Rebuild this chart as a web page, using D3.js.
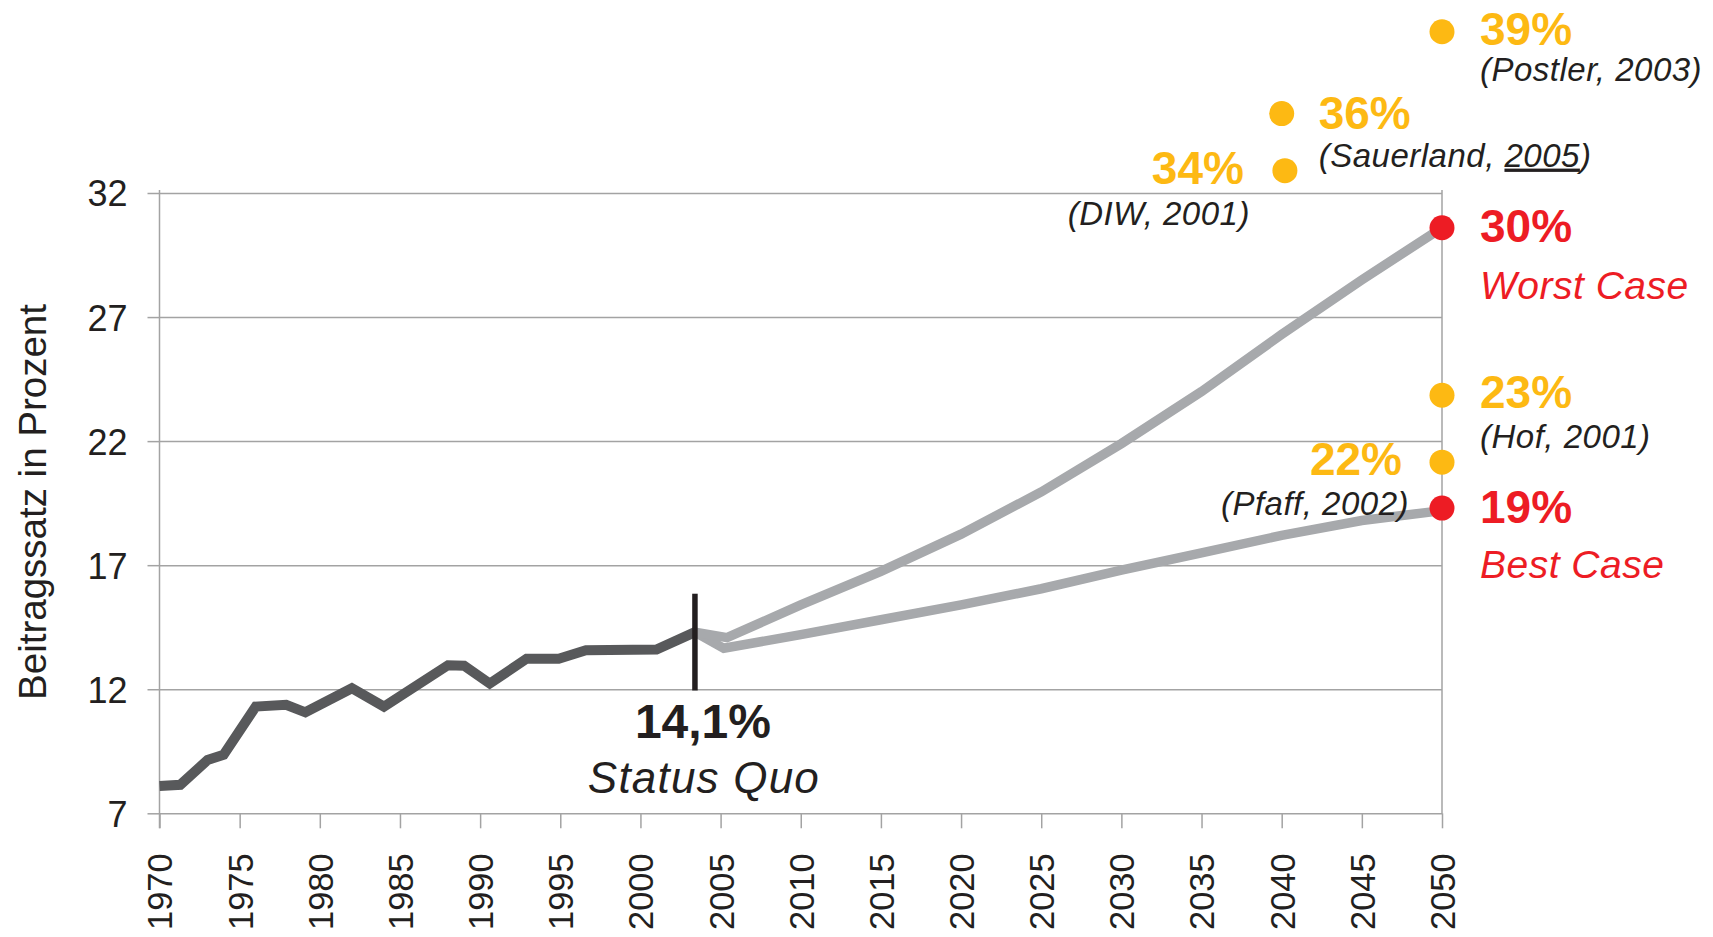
<!DOCTYPE html>
<html>
<head>
<meta charset="utf-8">
<script src="https://cdn.jsdelivr.net/npm/d3@7"></script>
<style>
  html, body { margin: 0; padding: 0; background: #fff; }
  svg { display: block; font-family: "Liberation Sans", Arial, sans-serif; }
</style>
</head>
<body>
<div id="chart"></div>
<script>
// historic contribution rate (dark line)
var histYear = [1970, 1971.3, 1973, 1974, 1976, 1977.9, 1979.1, 1982, 1984, 1988, 1989, 1990.6, 1992.9, 1994.9, 1996.6, 2001, 2003.4];
var histRate = [8.1, 8.15, 9.15, 9.36, 11.3, 11.37, 11.07, 12.04, 11.3, 12.97, 12.95, 12.23, 13.23, 13.23, 13.57, 13.6, 14.3];

// projections (light lines)
var worstYear = [2003.4, 2005.4, 2010, 2015, 2020, 2025, 2030, 2035, 2040, 2045, 2050];
var worstRate = [14.3, 14.08, 15.4, 16.75, 18.25, 19.95, 21.9, 24.0, 26.3, 28.5, 30.6];
var bestYear = [2003.4, 2005.2, 2010, 2015, 2020, 2025, 2030, 2035, 2040, 2045, 2050];
var bestRate = [14.3, 13.65, 14.2, 14.8, 15.4, 16.05, 16.8, 17.5, 18.2, 18.8, 19.2];

// studies and scenarios (dots)
var studyYear = [2050, 2040, 2040.2, 2050, 2050, 2050, 2050];
var studyRate = [38.5, 35.2, 32.9, 30.6, 23.85, 21.15, 19.3];
var studyLabel = ["39%", "36%", "34%", "30%", "23%", "22%", "19%"];
var studySource = ["(Postler, 2003)", "(Sauerland, 2005)", "(DIW, 2001)", "Worst Case", "(Hof, 2001)", "(Pfaff, 2002)", "Best Case"];
var studyKind = ["study", "study", "study", "scenario", "study", "study", "scenario"];

// status quo marker
var statusYear = 2003.4;
var statusRange = [11.95, 15.85];
var statusLabel = "14,1%";
var statusText = "Status Quo";

// axes
var xTicks = d3.range(1970, 2051, 5);
var yTicks = [7, 12, 17, 22, 27, 32];
var yTitle = "Beitragssatz in Prozent";

var W = 1713, H = 937;
var x = d3.scaleLinear().domain([1970, 2050]).range([159.5, 1442]);
var y = d3.scaleLinear().domain([7, 32]).range([813.3, 193]);

var darkGrey = "#58595b", lightGrey = "#a7a9ac", gridGrey = "#a3a3a3",
    ink = "#231f20", yellow = "#fdb913", red = "#ed1c24";

var svg = d3.select("#chart").append("svg")
  .attr("width", W).attr("height", H);

// gridlines
svg.append("g")
  .attr("transform", "translate(" + x(1970) + ",0)")
  .call(d3.axisLeft(y).tickValues(yTicks.slice(1)).tickSize(-(x(2050) - x(1970))).tickFormat(""))
  .call(function (g) {
    g.select(".domain").remove();
    g.selectAll("line").attr("stroke", gridGrey).attr("stroke-width", 1.5);
  });

// y axis with outer ticks and labels
svg.append("g")
  .attr("transform", "translate(" + x(1970) + ",0)")
  .call(d3.axisLeft(y).tickValues(yTicks).tickSize(12).tickSizeOuter(0).tickPadding(20))
  .call(function (g) {
    g.select(".domain").attr("stroke", gridGrey).attr("stroke-width", 1.5)
      .attr("d", "M0," + (y(32) - 3) + "V" + (y(7) + 15));
    g.selectAll("line").attr("stroke", gridGrey).attr("stroke-width", 1.5);
    g.selectAll("text").attr("fill", ink).style("font-size", "36px").attr("dy", "0.36em");
  });

// right border at 2050
svg.append("line")
  .attr("x1", x(2050)).attr("x2", x(2050))
  .attr("y1", y(32) - 3).attr("y2", y(7))
  .attr("stroke", gridGrey).attr("stroke-width", 1.5);

// x axis
svg.append("g")
  .attr("transform", "translate(0," + y(7) + ")")
  .call(d3.axisBottom(x).tickValues(xTicks).tickFormat(d3.format("d")).tickSize(15).tickSizeOuter(0))
  .call(function (g) {
    g.select(".domain").attr("stroke", gridGrey).attr("stroke-width", 1.5);
    g.selectAll("line").attr("stroke", gridGrey).attr("stroke-width", 1.5);
    g.selectAll("text")
      .attr("fill", ink)
      .style("font-size", "34.5px")
      .attr("text-anchor", "end")
      .attr("transform", "rotate(-90)")
      .attr("x", -40).attr("y", 0).attr("dy", "0.36em");
  });

// y title
svg.append("text")
  .attr("transform", "translate(46,502) rotate(-90)")
  .attr("text-anchor", "middle")
  .attr("fill", ink)
  .style("font-size", "38.5px")
  .text(yTitle);

var line = d3.line()
  .x(function (d) { return x(d[0]); })
  .y(function (d) { return y(d[1]); });

function pairs(a, b) { return a.map(function (v, i) { return [v, b[i]]; }); }

// projections
[pairs(bestYear, bestRate), pairs(worstYear, worstRate)].forEach(function (s) {
  svg.append("path")
    .datum(s)
    .attr("d", line)
    .attr("fill", "none")
    .attr("stroke", lightGrey)
    .attr("stroke-width", 9.5);
});

// history
svg.append("path")
  .datum(pairs(histYear, histRate))
  .attr("d", line)
  .attr("fill", "none")
  .attr("stroke", darkGrey)
  .attr("stroke-width", 10);

// status quo marker
svg.append("line")
  .attr("x1", x(statusYear)).attr("x2", x(statusYear))
  .attr("y1", y(statusRange[1])).attr("y2", y(statusRange[0]))
  .attr("stroke", ink).attr("stroke-width", 5.5);

svg.append("text")
  .attr("x", x(statusYear) + 8).attr("y", 738)
  .attr("text-anchor", "middle")
  .attr("fill", ink)
  .style("font-size", "48px").style("font-weight", "bold")
  .text(statusLabel);

svg.append("text")
  .attr("x", x(statusYear) + 9).attr("y", 793)
  .attr("text-anchor", "middle")
  .attr("fill", ink)
  .style("font-size", "44px").style("font-style", "italic").style("letter-spacing", "1.2px")
  .text(statusText);

// label layout: side of the dot, source line offset
var layout = [
  { side: 1, dx: 38, dy: 13, sdx: 38, sdy: 49 },
  { side: 1, dx: 37, dy: 15, sdx: 37, sdy: 53 },
  { side: -1, dx: -41, dy: 13, sdx: -35, sdy: 54 },
  { side: 1, dx: 38, dy: 14, sdx: 38, sdy: 71 },
  { side: 1, dx: 38, dy: 13, sdx: 38, sdy: 53 },
  { side: -1, dx: -40, dy: 13, sdx: -33, sdy: 53 },
  { side: 1, dx: 38, dy: 15, sdx: 38, sdy: 70 }
];

studyYear.forEach(function (yr, i) {
  var cx = x(yr), cy = y(studyRate[i]);
  var col = studyKind[i] === "scenario" ? red : yellow;
  var L = layout[i];
  var anchor = L.side > 0 ? "start" : "end";

  svg.append("circle")
    .attr("cx", cx).attr("cy", cy).attr("r", 12.5)
    .attr("fill", col);

  svg.append("text")
    .attr("x", cx + L.dx).attr("y", cy + L.dy)
    .attr("text-anchor", anchor)
    .attr("fill", col)
    .style("font-size", "46px").style("font-weight", "bold")
    .text(studyLabel[i]);

  var src = svg.append("text")
    .attr("x", cx + L.sdx).attr("y", cy + L.sdy)
    .attr("text-anchor", anchor)
    .style("font-style", "italic")
    .style("letter-spacing", "0.5px");

  if (studyKind[i] === "scenario") {
    src.attr("fill", red).style("font-size", "39px").text(studySource[i]);
  } else {
    src.attr("fill", ink).style("font-size", "33px");
    // Sauerland: year underlined
    var m = studySource[i].match(/^(\(.*, )(\d{4})(\))$/);
    if (i === 1 && m) {
      src.append("tspan").text(m[1]);
      src.append("tspan").style("text-decoration", "underline").text(m[2]);
      src.append("tspan").text(m[3]);
    } else {
      src.text(studySource[i]);
    }
  }
});
</script>
</body>
</html>
